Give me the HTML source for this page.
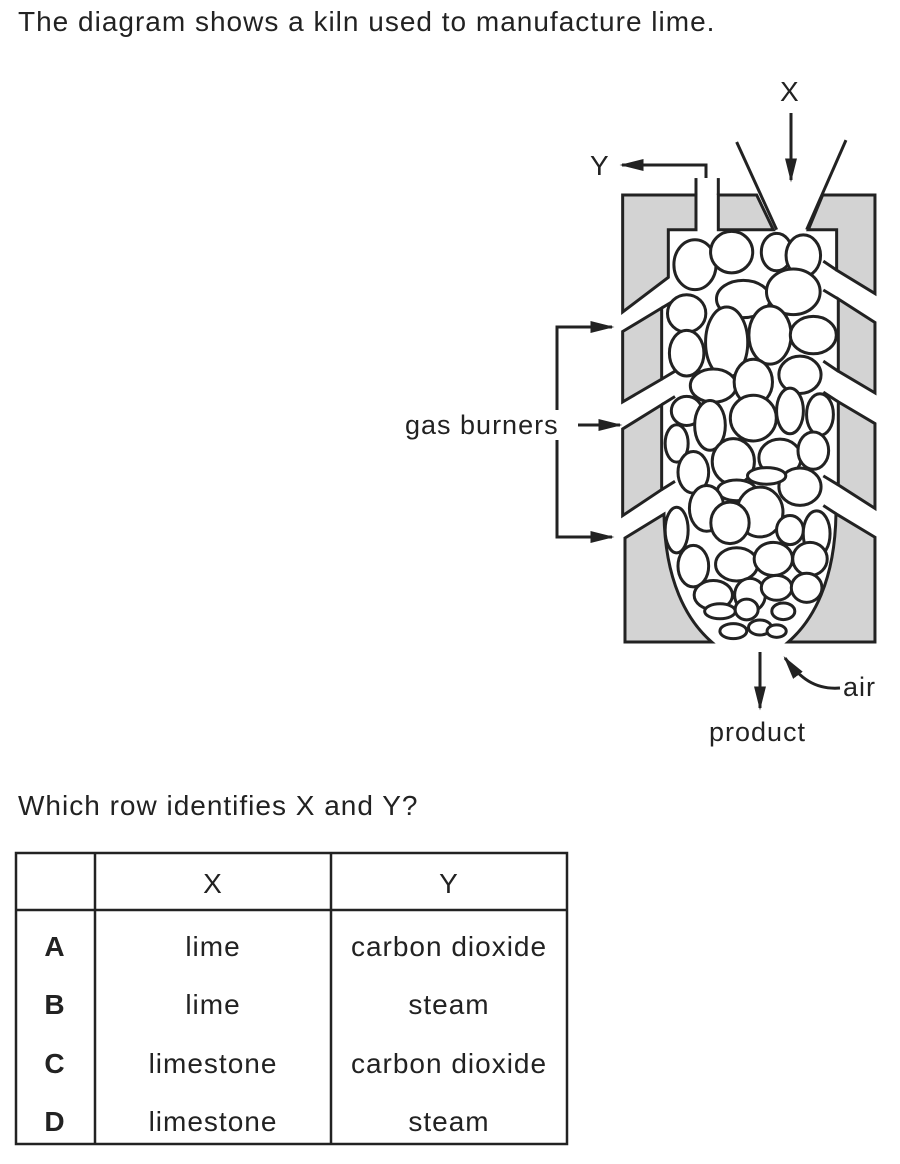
<!DOCTYPE html>
<html><head><meta charset="utf-8"><style>
body{margin:0;background:#fff;width:900px;height:1164px;overflow:hidden;font-family:"Liberation Sans",sans-serif;}
svg{position:absolute;left:0;top:0}
text{font-family:"Liberation Sans",sans-serif;fill:#222;letter-spacing:1px}
</style></head><body>
<svg width="900" height="1164" viewBox="0 0 900 1164">
<defs>
<marker id="ah2" viewBox="0 0 10 10" refX="9" refY="5" markerWidth="24" markerHeight="12" markerUnits="userSpaceOnUse" orient="auto" preserveAspectRatio="none"><path d="M0,0 L10,5 L0,10 z" fill="#222"/></marker></defs>
<text x="18" y="31" font-size="28">The diagram shows a kiln used to manufacture lime.</text>

<g id="kiln" transform="matrix(0.3333,0,0,0.361,540,82.4)" fill="#d3d3d3" stroke="#222" stroke-width="3" stroke-linejoin="miter">
<g>
<polygon vector-effect="non-scaling-stroke" points="248,312 468,312 468,408 385,408 385,540 248,636"/>
<polygon vector-effect="non-scaling-stroke" points="535,408 535,312 650,312 700,408"/>
<polygon vector-effect="non-scaling-stroke" points="848,312 1005,312 1005,585 890,520 890,408 805,408"/>
<polygon vector-effect="non-scaling-stroke" points="248,690 365,625 365,822 248,885"/>
<polygon vector-effect="non-scaling-stroke" points="248,960 365,893 365,1128 248,1200"/>
<path vector-effect="non-scaling-stroke" d="M255,1262 L372,1196 C375,1380 440,1490 515,1550 L255,1550 Z"/>
<polygon vector-effect="non-scaling-stroke" points="1005,665 895,600 895,800 1005,860"/>
<polygon vector-effect="non-scaling-stroke" points="1005,945 895,885 895,1115 1005,1180"/>
<path vector-effect="non-scaling-stroke" d="M1005,1260 L888,1195 C885,1380 820,1490 745,1550 L1005,1550 Z"/>
</g>
<g fill="none">
<line vector-effect="non-scaling-stroke" x1="590" y1="165" x2="710" y2="408"/>
<line vector-effect="non-scaling-stroke" x1="918" y1="160" x2="800" y2="408"/>
<line vector-effect="non-scaling-stroke" x1="468" y1="265" x2="468" y2="312"/>
<line vector-effect="non-scaling-stroke" x1="535" y1="265" x2="535" y2="312"/>
<line vector-effect="non-scaling-stroke" x1="365" y1="625" x2="405" y2="603"/>
<line vector-effect="non-scaling-stroke" x1="365" y1="822" x2="405" y2="800"/>
<line vector-effect="non-scaling-stroke" x1="365" y1="893" x2="405" y2="870"/>
<line vector-effect="non-scaling-stroke" x1="365" y1="1128" x2="405" y2="1105"/>
<line vector-effect="non-scaling-stroke" x1="890" y1="520" x2="850" y2="495"/>
<line vector-effect="non-scaling-stroke" x1="895" y1="600" x2="850" y2="575"/>
<line vector-effect="non-scaling-stroke" x1="895" y1="800" x2="850" y2="772"/>
<line vector-effect="non-scaling-stroke" x1="895" y1="885" x2="850" y2="858"/>
<line vector-effect="non-scaling-stroke" x1="895" y1="1115" x2="850" y2="1090"/>
<line vector-effect="non-scaling-stroke" x1="888" y1="1195" x2="850" y2="1172"/>
</g>
<g id="stones" fill="#fff"></g>
</g>

<g stroke="#222" stroke-width="3" fill="none">
<line x1="791" y1="113" x2="791" y2="180" marker-end="url(#ah2)"/>
<polyline points="706,178 706,165 622,165" marker-end="url(#ah2)"/>
<polyline points="557,410 557,327 612,327" marker-end="url(#ah2)"/>
<polyline points="557,440 557,537 612,537" marker-end="url(#ah2)"/>
<line x1="578" y1="425" x2="620" y2="425" marker-end="url(#ah2)"/>
<line x1="760" y1="652" x2="760" y2="708" marker-end="url(#ah2)"/>
<path d="M840,688 C815,690 800,678 785,658" marker-end="url(#ah2)"/>
</g>
<text x="780" y="101" font-size="28">X</text>
<text x="590" y="175" font-size="28">Y</text>
<text x="405" y="434" font-size="27">gas burners</text>
<text x="843" y="696" font-size="27">air</text>
<text x="709" y="741" font-size="27">product</text>
<text x="18" y="815" font-size="28">Which row identifies X and Y?</text>

<g>
<rect x="16" y="853" width="551" height="291" fill="none" stroke="#222" stroke-width="2.5"/>
<line x1="95" y1="853" x2="95" y2="1144" stroke="#222" stroke-width="2.5"/>
<line x1="331" y1="853" x2="331" y2="1144" stroke="#222" stroke-width="2.5"/>
<line x1="16" y1="910" x2="567" y2="910" stroke="#222" stroke-width="2.5"/>
<g font-size="28" text-anchor="middle">
<text x="213" y="893">X</text>
<text x="449" y="893">Y</text>
<text x="55" y="956" font-weight="bold">A</text>
<text x="213" y="956">lime</text><text x="449" y="956">carbon dioxide</text>
<text x="55" y="1014" font-weight="bold">B</text>
<text x="213" y="1014">lime</text><text x="449" y="1014">steam</text>
<text x="55" y="1073" font-weight="bold">C</text>
<text x="213" y="1073">limestone</text><text x="449" y="1073">carbon dioxide</text>
<text x="55" y="1131" font-weight="bold">D</text>
<text x="213" y="1131">limestone</text><text x="449" y="1131">steam</text>
</g></g>
</svg>
<script>
const stoneCx=[465,575,710,790,610,760,440,440,560,690,820,520,640,780,440,510,640,750,840,410,580,720,820,460,780,590,680,500,660,410,570,750,830,460,590,700,810,520,630,710,800,540,620,730,580,660,710];
const stoneCy=[505,470,470,480,600,580,640,750,720,700,700,840,830,810,910,950,930,910,920,1000,1050,1040,1020,1080,1120,1130,1090,1180,1190,1240,1220,1240,1250,1340,1335,1320,1320,1420,1420,1400,1400,1465,1460,1465,1520,1510,1520];
const stoneRx=[55,55,40,45,70,70,50,45,55,55,60,60,50,55,40,40,60,35,35,30,55,55,40,40,55,50,50,45,60,30,50,35,35,40,55,50,45,50,40,40,40,40,30,30,35,30,25];
const stoneRy=[60,50,45,50,45,55,45,55,85,70,45,40,55,45,35,60,55,55,50,45,55,45,45,50,45,25,20,55,60,55,50,35,55,50,40,40,40,35,40,30,35,18,25,20,18,18,15];
const g=document.getElementById('stones');
for(let i=0;i<stoneCx.length;i++){
  const e=document.createElementNS('http://www.w3.org/2000/svg','ellipse');
  
  
  e.setAttribute('cx',stoneCx[i]);e.setAttribute('cy',stoneCy[i]);
  e.setAttribute('rx',stoneRx[i]*1.15);e.setAttribute('ry',stoneRy[i]*1.15);
  e.setAttribute('vector-effect','non-scaling-stroke');
  g.appendChild(e);
}
</script>
</body></html>
